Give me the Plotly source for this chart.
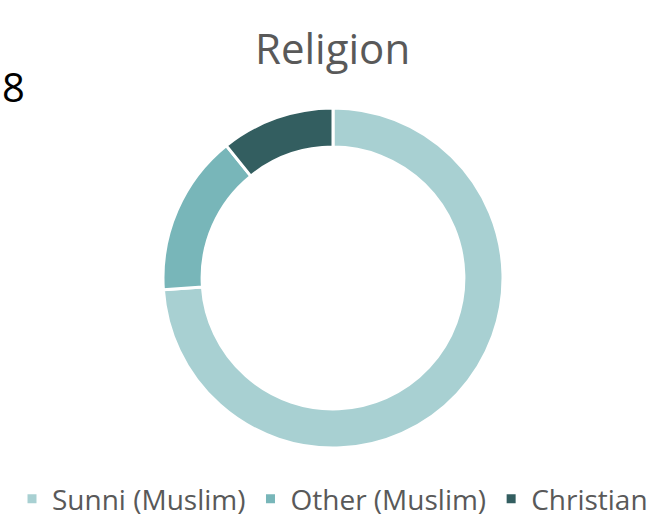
import plotly.graph_objects as go

labels = ["Sunni (Muslim)", "Other (Muslim)", "Christian"]
values = [73.9, 15.3, 10.8]
colors = ["#A8D0D2", "#78B6B9", "#335E60"]

W, H = 654, 521
cx, cy, r = 333, 278, 170

fig = go.Figure(go.Pie(
    labels=labels, values=values, sort=False, direction="clockwise", rotation=0,
    hole=0.77, textinfo="none", hoverinfo="label+percent",
    marker=dict(colors=colors, line=dict(color="white", width=3)),
    domain=dict(x=[(cx - r) / W, (cx + r) / W], y=[(H - cy - r) / H, (H - cy + r) / H]),
))

fig.update_layout(
    width=W, height=H, margin=dict(l=0, r=0, t=0, b=0, autoexpand=False),
    paper_bgcolor="white", plot_bgcolor="white",
    font=dict(family="Open Sans, Noto Sans, sans-serif", color="#595959"),
    showlegend=True,
    legend=dict(orientation="h", x=12 / W, xanchor="left", y=-3 / H, yanchor="bottom",
                font=dict(size=28, color="#595959"), itemwidth=30, traceorder="normal"),
    annotations=[
        dict(text="Religion", x=333 / W, y=1 - 47 / H, xref="paper", yref="paper",
             showarrow=False, font=dict(size=42, color="#595959"), xanchor="center", yanchor="middle"),
        dict(text="8", x=0, y=1 - 86 / H, xref="paper", yref="paper",
             showarrow=False, font=dict(size=40, color="#000000"), xanchor="left", yanchor="middle"),
    ],
)

fig.write_html("out.html", config={"displayModeBar": False},
               post_script="document.body.style.margin='0';")
